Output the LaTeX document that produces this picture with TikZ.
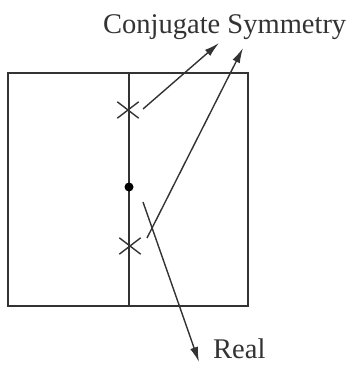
\documentclass[tikz,border=0pt]{standalone}
\usepackage{fontspec}
\setmainfont{Liberation Serif}
\usetikzlibrary{arrows.meta,shapes.misc}
\tikzset{
    pole/.style={cross out, draw, minimum width=20pt, minimum height=15pt, inner sep=0pt, line width=1.4pt},
    lbl/.style={font=\fontsize{28.5}{32}\selectfont, inner sep=0pt, anchor=base west},
    pointer/.style={-{Latex[length=15pt,width=8pt]}, line width=1.4pt}
}
\begin{document}
\begin{tikzpicture}[x=1pt, y=-1pt, color=black!80]
    \useasboundingbox (0, 0) rectangle (352, 367);
    \draw[line width=1.6pt] (8, 73) rectangle (248, 306);
    \draw[line width=1.6pt] (129, 73) -- (129, 306);
    \node[pole] (upper) at (128, 110) {};
    \node[pole] (lower) at (130, 246) {};
    \fill[black] (129, 187) circle (4.5pt);
    \node[lbl] (conj) at (103, 33) {Conjugate Symmetry};
    \node[lbl] (real) at (213, 358) {Real};
    \coordinate (upfrom) at (143, 109);
    \coordinate (lowfrom) at (147, 238);
    \coordinate (realfrom) at (143, 202);
    \coordinate (uptip) at (219, 43);
    \coordinate (lowtip) at (243, 48);
    \coordinate (realtip) at (199, 362);
    \draw[pointer] (upfrom) -- (uptip);
    \draw[pointer] (lowfrom) -- (lowtip);
    \draw[pointer] (realfrom) -- (realtip);
\end{tikzpicture}
\end{document}
